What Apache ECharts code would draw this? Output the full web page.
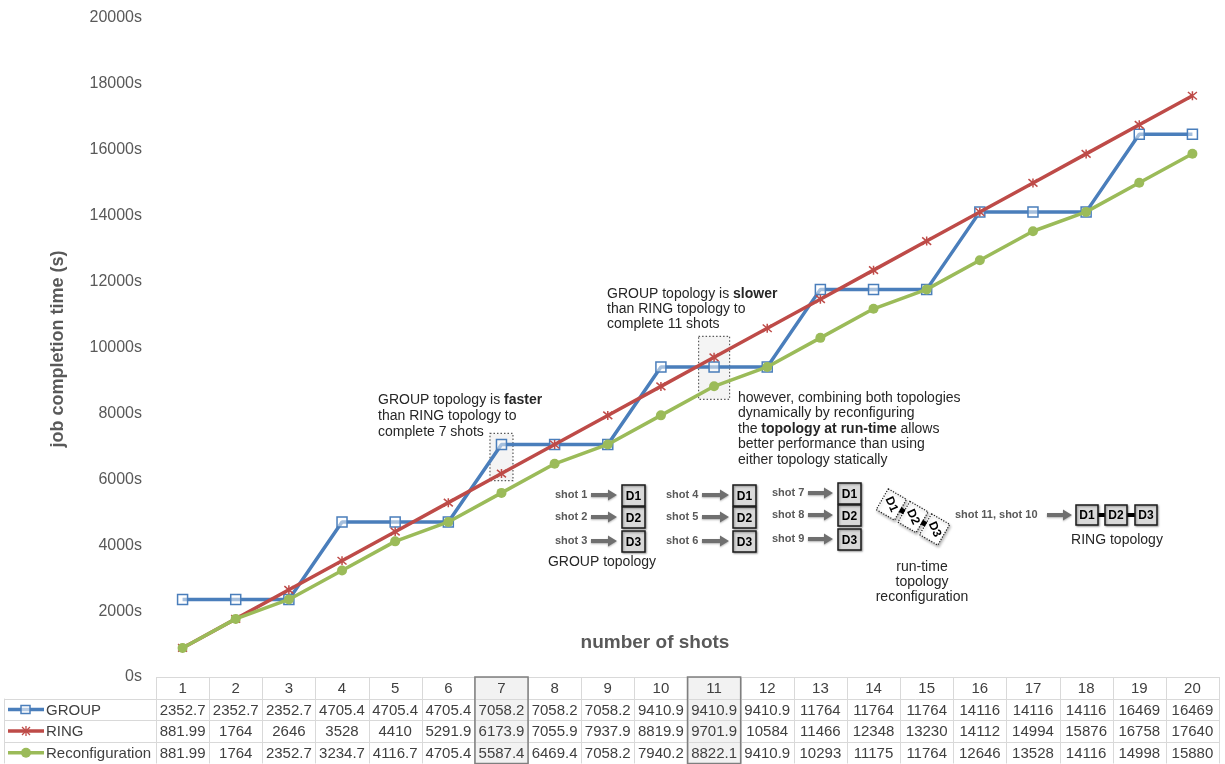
<!DOCTYPE html>
<html><head><meta charset="utf-8">
<script src="https://cdn.jsdelivr.net/npm/echarts@6/dist/echarts.min.js"></script>
<style>html,body{margin:0;padding:0;background:#fff}#c{width:1225px;height:764px}</style>
</head><body><div id="c"></div>
<script>
const categories = ['1','2','3','4','5','6','7','8','9','10','11','12','13','14','15','16','17','18','19','20'];
const groupTimes = [2352.7,2352.7,2352.7,4705.4,4705.4,4705.4,7058.2,7058.2,7058.2,9410.9,9410.9,9410.9,11764,11764,11764,14116,14116,14116,16469,16469];
const ringTimes = [881.99,1764,2646,3528,4410,5291.9,6173.9,7055.9,7937.9,8819.9,9701.9,10584,11466,12348,13230,14112,14994,15876,16758,17640];
const reconfTimes = [881.99,1764,2352.7,3234.7,4116.7,4705.4,5587.4,6469.4,7058.2,7940.2,8822.1,9410.9,10293,11175,11764,12646,13528,14116,14998,15880];
const seriesNames = ['GROUP','RING','Reconfiguration'];
const highlightShots = ['7','11'];
const yMin = 0, yMax = 20000, yStep = 2000;

const BLUE = '#4a7ebb', RED = '#be4b48', GREEN = '#9bbb59';
const FONT = '"Liberation Sans", Arial, sans-serif';
const STAR = 'path://M0,0L10,10M10,0L0,10M5,-1L5,11';

const chart = echarts.init(document.getElementById('c'), null, {renderer:'canvas'});
chart.setOption({
  animation: false,
  textStyle: {fontFamily: FONT},
  grid: {left: 156, right: 6, top: 18, bottom: 87},
  xAxis: {type:'category', data: categories, boundaryGap: true,
    axisLine:{show:false}, axisTick:{show:false}, axisLabel:{show:false}, splitLine:{show:false}},
  yAxis: {type:'value', min:yMin, max:yMax, interval:yStep,
    axisLine:{show:false}, axisTick:{show:false}, splitLine:{show:false},
    axisLabel:{formatter: v => v + 's', color:'#595959', fontSize:16, margin:14, fontFamily: FONT}},
  series: [
    {name:seriesNames[0], type:'line', data:groupTimes, z:3,
      lineStyle:{color:BLUE, width:3.5}, symbol:'rect', symbolSize:10,
      itemStyle:{color:'rgba(255,255,255,0.5)', borderColor:BLUE, borderWidth:1.5}},
    {name:seriesNames[1], type:'line', data:ringTimes, z:4,
      lineStyle:{color:RED, width:3.5}, symbol:STAR, symbolSize:9,
      itemStyle:{color:RED, borderColor:RED, borderWidth:1.5}},
    {name:seriesNames[2], type:'line', data:reconfTimes, z:5,
      lineStyle:{color:GREEN, width:3.5}, symbol:'circle', symbolSize:10,
      itemStyle:{color:GREEN, borderColor:GREEN, borderWidth:0}}
  ]
});

const px = c => chart.convertToPixel({xAxisIndex:0}, c);
const py = v => chart.convertToPixel({yAxisIndex:0}, v);
const x0 = px(categories[0]), x1 = px(categories[1]);
const colW = x1 - x0;
const tLeft = x0 - colW/2;
const tRight = tLeft + colW*categories.length;
const tTop = py(0);
const tBottom = 763.5;
const rowH = (tBottom - tTop)/4;
const labelLeft = 4.5;
const G = [];

highlightShots.forEach(s => {
  const cx = px(s);
  G.push({type:'rect', z:0, shape:{x:cx-colW/2, y:tTop, width:colW, height:tBottom-tTop}, style:{fill:'#f2f2f2', stroke:null}});
});
const LC = '#d9d9d9';
G.push({type:'line', z:1, shape:{x1:tLeft, y1:tTop+0.5, x2:tRight, y2:tTop+0.5}, style:{stroke:LC, lineWidth:1}});
for (let r=1; r<=4; r++) {
  const y = Math.round(tTop + r*rowH) + 0.5;
  G.push({type:'line', z:1, shape:{x1:labelLeft, y1:y, x2:tRight, y2:y}, style:{stroke:LC, lineWidth:1}});
}
G.push({type:'line', z:1, shape:{x1:labelLeft, y1:tTop+rowH, x2:labelLeft, y2:tBottom}, style:{stroke:LC, lineWidth:1}});
for (let i=0; i<=categories.length; i++) {
  const x = Math.round(tLeft + i*colW) + 0.5;
  G.push({type:'line', z:1, shape:{x1:x, y1:tTop, x2:x, y2:tBottom}, style:{stroke:LC, lineWidth:1}});
}
highlightShots.forEach(s => {
  const cx = px(s);
  G.push({type:'rect', z:2, shape:{x:cx-colW/2, y:tTop, width:colW, height:tBottom-tTop}, style:{fill:null, stroke:'#7f7f7f', lineWidth:1.5}});
});
const TC = '#404040';
categories.forEach((c,i) => {
  const cx = px(c);
  G.push({type:'text', z:3, x:cx, y:tTop+rowH/2+1, style:{text:c, fill:TC, font:'15px '+FONT, align:'center', verticalAlign:'middle'}});
  [groupTimes, ringTimes, reconfTimes].forEach((arr,r) => {
    G.push({type:'text', z:3, x:cx, y:tTop+(r+1.5)*rowH+1, style:{text:String(arr[i]), fill:TC, font:'15px '+FONT, align:'center', verticalAlign:'middle'}});
  });
});
const keyColors = [BLUE, RED, GREEN];
seriesNames.forEach((n,r) => {
  const cy = tTop + (r+1.5)*rowH;
  G.push({type:'line', z:3, shape:{x1:8, y1:cy, x2:44, y2:cy}, style:{stroke:keyColors[r], lineWidth:3.5}});
  if (r===0) G.push({type:'rect', z:4, shape:{x:21, y:cy-4, width:9, height:8}, style:{fill:'rgba(255,255,255,0.6)', stroke:BLUE, lineWidth:1.5}});
  if (r===1) G.push({type:'polyline', z:4, shape:{points:[[22,cy-4],[30,cy+4]]}, style:{stroke:RED, lineWidth:1.3}},
                    {type:'polyline', z:4, shape:{points:[[30,cy-4],[22,cy+4]]}, style:{stroke:RED, lineWidth:1.3}},
                    {type:'polyline', z:4, shape:{points:[[26,cy-5],[26,cy+5]]}, style:{stroke:RED, lineWidth:1.3}});
  if (r===2) G.push({type:'circle', z:4, shape:{cx:26, cy:cy, r:5}, style:{fill:GREEN}});
  G.push({type:'text', z:3, x:46, y:cy+1, style:{text:n, fill:TC, font:'15px '+FONT, align:'left', verticalAlign:'middle'}});
});

G.push({type:'text', z:3, x:58, y:349, rotation:Math.PI/2, style:{text:'job completion time (s)', fill:'#595959', font:'bold 18px '+FONT, align:'center', verticalAlign:'middle'}});
G.push({type:'text', z:3, x:655, y:643, style:{text:'number of shots', fill:'#595959', font:'bold 19px '+FONT, align:'center', verticalAlign:'middle'}});

function dataBox(shot, vals, padTop, padBot, w) {
  const cx = px(shot);
  const ys = vals.map(v => py(v));
  const top = Math.min(...ys) - padTop, bot = Math.max(...ys) + padBot;
  G.push({type:'rect', z:1, shape:{x:cx-w/2, y:top, width:w, height:bot-top}, style:{fill:'rgba(235,235,235,0.55)', stroke:'#595959', lineWidth:1.2, lineDash:[1.5,2]}});
}
dataBox('7', [groupTimes[6], ringTimes[6]], 11, 7, 23);
dataBox('11', [ringTimes[10], groupTimes[10], reconfTimes[10]], 21, 13, 31);

const richN = {n:{fontSize:14, fontFamily:FONT, fill:'#262626', lineHeight:16}, b:{fontSize:14, fontFamily:FONT, fontWeight:'bold', fill:'#262626', lineHeight:16}};
G.push({type:'text', z:6, x:378, y:392, style:{text:'{n|GROUP topology is }{b|faster}\n{n|than RING topology to}\n{n|complete 7 shots}', rich:richN, verticalAlign:'top'}});
G.push({type:'text', z:6, x:607, y:287, style:{text:'{n|GROUP topology is }{b|slower}\n{n|than RING topology to}\n{n|complete 11 shots}', rich:{n:Object.assign({},richN.n,{lineHeight:15}), b:Object.assign({},richN.b,{lineHeight:15})}, verticalAlign:'top'}});
G.push({type:'text', z:6, x:738, y:390, style:{text:'{n|however, combining both topologies}\n{n|dynamically by reconfiguring}\n{n|the }{b|topology at run-time}{n| allows}\n{n|better performance than using}\n{n|either topology statically}', rich:{n:Object.assign({},richN.n,{lineHeight:15.5}), b:Object.assign({},richN.b,{lineHeight:15.5})}, verticalAlign:'top'}});

function arrow(xa, xb, y) {
  G.push({type:'polygon', z:6, shape:{points:[[xa,y-2],[xb-9,y-2],[xb-9,y-5.5],[xb,y],[xb-9,y+5.5],[xb-9,y+2],[xa,y+2]]}, style:{fill:'#6f6f6f', shadowBlur:2, shadowColor:'rgba(0,0,0,0.3)', shadowOffsetY:1}});
}
function box(x, y, w, h, label) {
  G.push({type:'rect', z:6, shape:{x:x, y:y, width:w, height:h}, style:{fill:'#d9d9d9', stroke:'#1a1a1a', lineWidth:1.5, shadowBlur:2, shadowColor:'rgba(0,0,0,0.35)', shadowOffsetX:1, shadowOffsetY:1}});
  G.push({type:'text', z:7, x:x+w/2, y:y+h/2+1, style:{text:label, fill:'#000', font:'bold 12px '+FONT, align:'center', verticalAlign:'middle'}});
}
function shotLabel(x, y, t) {
  G.push({type:'text', z:6, x:x, y:y, style:{text:t, fill:'#595959', font:'bold 11px '+FONT, align:'left', verticalAlign:'middle'}});
}
const groups = [
  {sx:555, ax:[591,617], bx:622, ys:[495,517,541], shots:['shot 1','shot 2','shot 3']},
  {sx:666, ax:[702,729], bx:733, ys:[495,517,541], shots:['shot 4','shot 5','shot 6']},
  {sx:772, ax:[808,833], bx:838, ys:[493,515,539], shots:['shot 7','shot 8','shot 9']}
];
groups.forEach(g => {
  g.ys.forEach((y,k) => {
    shotLabel(g.sx, y, g.shots[k]);
    arrow(g.ax[0], g.ax[1], y);
    box(g.bx, y-10, 23, 21, 'D'+(k+1));
  });
});
G.push({type:'text', z:6, x:602, y:562, style:{text:'GROUP topology', fill:'#262626', font:'14px '+FONT, align:'center', verticalAlign:'middle'}});

const chainKids = [];
[-25, 0, 25].forEach((dx,k) => {
  chainKids.push({type:'rect', shape:{x:dx-10.5, y:-12, width:21, height:24}, style:{fill:'#fff', stroke:'#1a1a1a', lineWidth:1.2, lineDash:[1.2,1.5], shadowBlur:3, shadowColor:'rgba(0,0,0,0.3)', shadowOffsetX:1, shadowOffsetY:2}});
  chainKids.push({type:'text', x:dx, y:0, rotation:-Math.PI/5, style:{text:'D'+(k+1), fill:'#000', font:'bold 12px '+FONT, align:'center', verticalAlign:'middle'}});
});
[-12.5, 12.5].forEach(dx => chainKids.push({type:'rect', shape:{x:dx-2.5, y:-2.5, width:5, height:5}, style:{fill:'#000'}}));
G.push({type:'group', z:6, x:913, y:517, rotation:-Math.PI/6, children:chainKids});
G.push({type:'text', z:6, x:922, y:582, style:{text:'run-time\ntopology\nreconfiguration', fill:'#262626', font:'14px '+FONT, lineHeight:15, align:'center', verticalAlign:'middle'}});

shotLabel(955, 515, 'shot 11, shot 10');
arrow(1047, 1072, 515);
[1076, 1105, 1135].forEach((bx,k) => box(bx, 505, 22, 20, 'D'+(k+1)));
[[1098,1105],[1127,1135]].forEach(p => G.push({type:'line', z:5, shape:{x1:p[0], y1:515, x2:p[1], y2:515}, style:{stroke:'#000', lineWidth:4}}));
G.push({type:'text', z:6, x:1117, y:540, style:{text:'RING topology', fill:'#262626', font:'14px '+FONT, align:'center', verticalAlign:'middle'}});

chart.setOption({graphic: G});
</script></body></html>
